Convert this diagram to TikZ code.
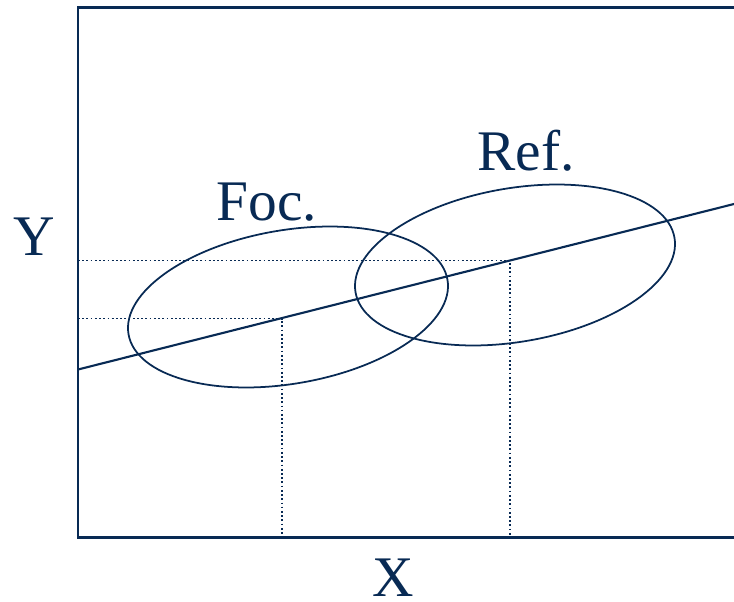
\documentclass[tikz,border=0pt]{standalone}
\usepackage{fontspec}
\setmainfont{Liberation Serif}
\definecolor{navy}{RGB}{8,42,84}
\begin{document}
\begin{tikzpicture}[x=0.3mm,y=-0.3mm,navy,
  lbl/.style={font=\fontsize{49}{49}\selectfont,anchor=base,inner sep=0pt},
  guide/.style={line width=1.5pt,dash pattern=on 1.5pt off 2.1pt},
  blob/.style={line width=1.5pt}]
  \useasboundingbox (0,0) rectangle (734,601);
  % frame
  \coordinate (tl) at (78,7.5);
  \coordinate (tr) at (734,7.5);
  \coordinate (bl) at (78,537.5);
  \coordinate (br) at (734,537.5);
  \draw[line width=2pt] (tr) -- (tl) -- (bl) -- (br);
  % regression line
  \coordinate (p0) at (78,369.5);
  \coordinate (p1) at (734,204);
  \draw[line width=1.8pt] (p0) -- (p1);
  % guides
  \coordinate (foot1) at (282,318.5);
  \coordinate (foot2) at (510,260.5);
  \draw[guide] (78,318.5) -- (foot1) -- (282,537.5);
  \draw[guide] (78,260.5) -- (foot2) -- (510,537.5);
  % ellipses
  \draw[blob,rotate around={9.7:(288,307)}] (288,307) ellipse [x radius=161.8, y radius=76.8];
  \draw[blob,rotate around={9.7:(515,265)}] (515,265) ellipse [x radius=161.8, y radius=76.8];
  % labels
  \node[lbl] (foc) at (267,220) {Foc.};
  \node[lbl] (ref) at (526,170) {Ref.};
  \node[lbl] (ylab) at (34.5,255) {Y};
  \node[lbl] (xlab) at (393,596) {X};
\end{tikzpicture}
\end{document}
